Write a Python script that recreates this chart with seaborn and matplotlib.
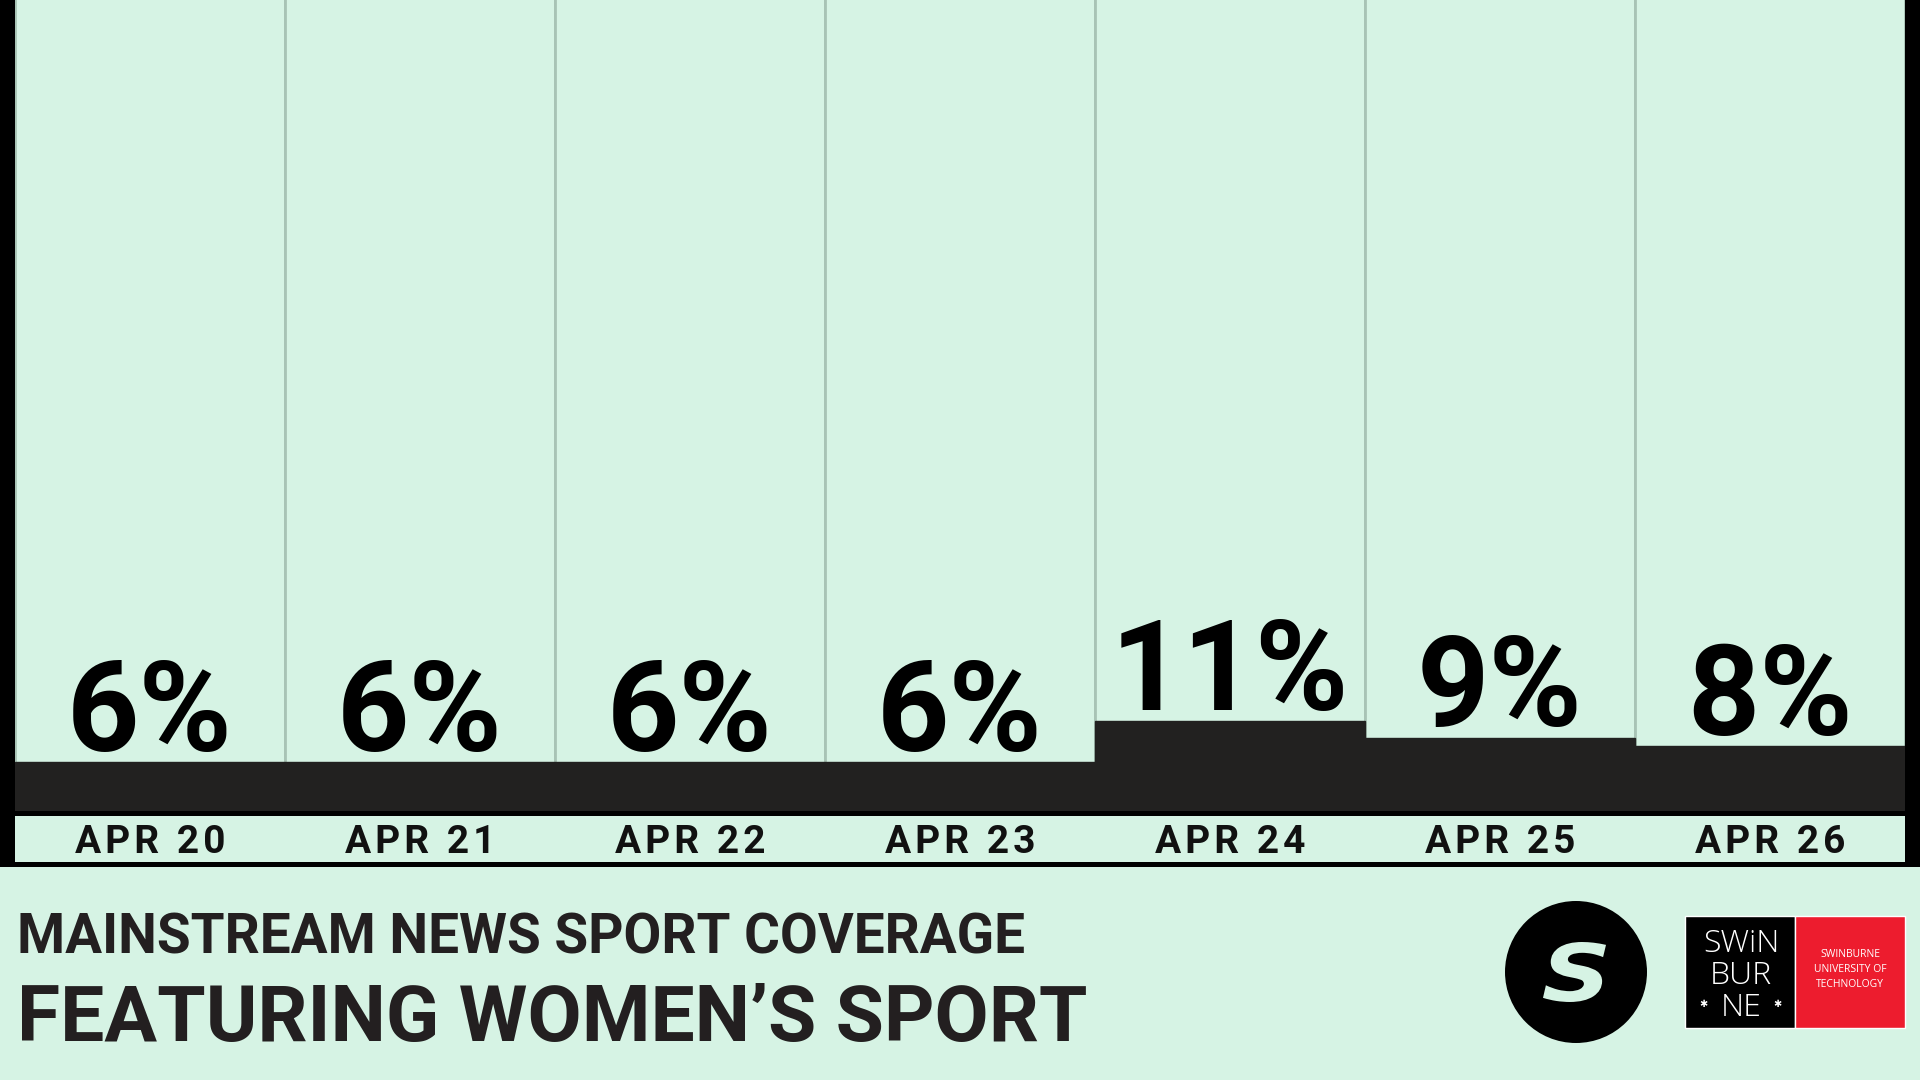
import matplotlib
matplotlib.use("Agg")
import matplotlib.pyplot as plt
import seaborn as sns
import pandas as pd
from matplotlib.patches import Rectangle, Circle, PathPatch
from matplotlib.textpath import TextPath
from matplotlib.font_manager import FontProperties
from matplotlib.transforms import Affine2D

# data
days = ['APR 20', 'APR 21', 'APR 22', 'APR 23', 'APR 24', 'APR 25', 'APR 26']
womens_share = [6, 6, 6, 6, 11, 9, 8]
share_labels = ['6%', '6%', '6%', '6%', '11%', '9%', '8%']
full_scale = [100, 100, 100, 100, 100, 100, 100]

title_top = 'MAINSTREAM NEWS SPORT COVERAGE'
title_main = 'FEATURING WOMEN\u2019S SPORT'

BG = '#d6f3e4'
DARK = '#222120'
DIVIDER = '#a8c3b5'
RED = '#ed1c2e'

sns.set_style('white')
plt.rcParams['font.family'] = ['Roboto', 'DejaVu Sans']


def tracked(s):
    # loose letter spacing like the original artwork
    return '\u200a'.join(s)


df = pd.DataFrame({'day': days, 'share': womens_share, 'total': full_scale})

fig = plt.figure(figsize=(19.2, 10.8), dpi=100, facecolor=BG)

# main bar area (pixel layout: x 15..1905, baseline at y=811 from top)
ax = fig.add_axes([15 / 1920, 1 - 811 / 1080, 1890 / 1920, 816 / 1080])
ax.set_facecolor(BG)

# full-height columns (the 100% backdrop) and the women's share on top
sns.barplot(data=df, x='day', y='total', color=BG, saturation=1, width=1.0,
            edgecolor=DIVIDER, linewidth=2, errorbar=None, ax=ax)
sns.barplot(data=df, x='day', y='share', color=DARK, saturation=1, width=1.0,
            edgecolor=DARK, linewidth=1, errorbar=None, ax=ax)

for patch, lbl in zip(ax.containers[1], share_labels):
    ax.annotate(lbl, (patch.get_x() + patch.get_width() / 2, patch.get_height()),
                xytext=(0, 8), textcoords='offset points', ha='center', va='baseline',
                fontsize=91, fontweight='bold', color='black')

ax.set_xlim(-0.5, len(days) - 0.5)
ax.set_ylim(0, 100)
ax.set_xlabel('')
ax.set_ylabel('')
ax.set_yticks([])
ax.set_xticks(range(len(days)))
ax.set_xticklabels([tracked(d) for d in days])
sns.despine(ax=ax, left=True, bottom=True, top=True, right=True)
ax.tick_params(axis='x', length=0, pad=30, labelsize=28, labelcolor='#111111')
for t in ax.get_xticklabels():
    t.set_fontweight('bold')
    t.set_va('baseline')

# overlay in pixel coordinates for frame, titles and logos
deco = fig.add_axes([0, 0, 1, 1], zorder=5)
deco.set_xlim(0, 1920)
deco.set_ylim(1080, 0)
deco.axis('off')
deco.patch.set_alpha(0)

deco.add_patch(Rectangle((0, 0), 15, 867, color='black', lw=0))
deco.add_patch(Rectangle((1905, 0), 15, 867, color='black', lw=0))
deco.add_patch(Rectangle((0, 811), 1920, 5, color='black', lw=0))
deco.add_patch(Rectangle((0, 862), 1920, 5, color='black', lw=0))

deco.text(17, 954, title_top, ha='left', va='baseline', fontsize=39.5,
          fontweight='bold', color='#231f20')
deco.text(17, 1041, title_main, ha='left', va='baseline', fontsize=56.5,
          fontweight='bold', color='#231f20')

# round "S" badge
deco.add_patch(Circle((1576, 972), 71, color='black', lw=0))
fp = FontProperties(family='DejaVu Sans', weight='bold', style='italic')
tp = TextPath((0, 0), 'S', size=100, prop=fp)
bb = tp.get_extents()
tr = Affine2D().translate(-bb.x0, -bb.y0).scale(63 / bb.width, -60 / bb.height).translate(1543, 1002)
deco.add_patch(PathPatch(tr.transform_path(tp), facecolor=BG, edgecolor='none', zorder=4))

# Swinburne block
deco.add_patch(Rectangle((1685, 916), 110, 112, facecolor='black', edgecolor='white', lw=1))
deco.add_patch(Rectangle((1795, 916), 110, 112, facecolor=RED, edgecolor='white', lw=1))
for word, yb in [('SWiN', 952), ('BUR', 984), ('NE', 1016)]:
    deco.text(1741, yb, word, ha='center', va='baseline', fontsize=23,
              family=['Open Sans', 'DejaVu Sans'], fontweight='light', color='white')
for xs in (1703, 1777):
    deco.text(xs, 1004, '\u2731', ha='center', va='center', fontsize=7,
              family='DejaVu Sans', color='white')
for line, yb in [('SWINBURNE', 957), ('UNIVERSITY OF', 972), ('TECHNOLOGY', 987)]:
    deco.text(1850, yb, line, ha='center', va='baseline', fontsize=7.5,
              family=['Open Sans', 'DejaVu Sans'], color='white')

fig.savefig('out.png', dpi=100, facecolor=BG)
